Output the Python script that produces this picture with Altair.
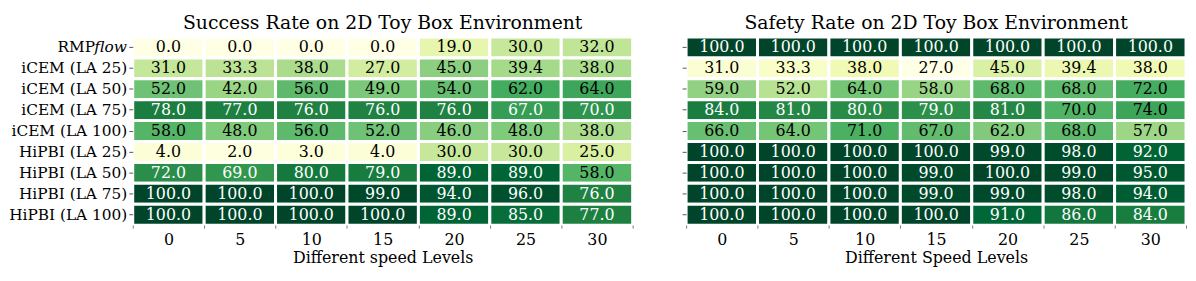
import altair as alt
import numpy as np
import pandas as pd

speeds = [0, 5, 10, 15, 20, 25, 30]
methods = ["RMPflow", "iCEM (LA 25)", "iCEM (LA 50)", "iCEM (LA 75)", "iCEM (LA 100)",
           "HiPBI (LA 25)", "HiPBI (LA 50)", "HiPBI (LA 75)", "HiPBI (LA 100)"]

success_rmpflow = [0.0, 0.0, 0.0, 0.0, 19.0, 30.0, 32.0]
success_icem25 = [31.0, 33.3, 38.0, 27.0, 45.0, 39.4, 38.0]
success_icem50 = [52.0, 42.0, 56.0, 49.0, 54.0, 62.0, 64.0]
success_icem75 = [78.0, 77.0, 76.0, 76.0, 76.0, 67.0, 70.0]
success_icem100 = [58.0, 48.0, 56.0, 52.0, 46.0, 48.0, 38.0]
success_hipbi25 = [4.0, 2.0, 3.0, 4.0, 30.0, 30.0, 25.0]
success_hipbi50 = [72.0, 69.0, 80.0, 79.0, 89.0, 89.0, 58.0]
success_hipbi75 = [100.0, 100.0, 100.0, 99.0, 94.0, 96.0, 76.0]
success_hipbi100 = [100.0, 100.0, 100.0, 100.0, 89.0, 85.0, 77.0]

safety_rmpflow = [100.0, 100.0, 100.0, 100.0, 100.0, 100.0, 100.0]
safety_icem25 = [31.0, 33.3, 38.0, 27.0, 45.0, 39.4, 38.0]
safety_icem50 = [59.0, 52.0, 64.0, 58.0, 68.0, 68.0, 72.0]
safety_icem75 = [84.0, 81.0, 80.0, 79.0, 81.0, 70.0, 74.0]
safety_icem100 = [66.0, 64.0, 71.0, 67.0, 62.0, 68.0, 57.0]
safety_hipbi25 = [100.0, 100.0, 100.0, 100.0, 99.0, 98.0, 92.0]
safety_hipbi50 = [100.0, 100.0, 100.0, 99.0, 100.0, 99.0, 95.0]
safety_hipbi75 = [100.0, 100.0, 100.0, 99.0, 99.0, 98.0, 94.0]
safety_hipbi100 = [100.0, 100.0, 100.0, 100.0, 91.0, 86.0, 84.0]

success = [success_rmpflow, success_icem25, success_icem50, success_icem75, success_icem100,
           success_hipbi25, success_hipbi50, success_hipbi75, success_hipbi100]
safety = [safety_rmpflow, safety_icem25, safety_icem50, safety_icem75, safety_icem100,
          safety_hipbi25, safety_hipbi50, safety_hipbi75, safety_hipbi100]

# ColorBrewer YlGn (matplotlib "YlGn")
YLGN = ["#ffffe5", "#f7fcb9", "#d9f0a3", "#addd8e", "#78c679",
        "#41ab5d", "#238443", "#006837", "#004529"]

FONT = "DejaVu Serif"
FS = 16
LFS = 15.5
W, H = 505, 190


def frame(vals):
    rows = []
    for m, row in zip(methods, vals):
        for s, v in zip(speeds, row):
            rows.append({"method": m, "speed": s, "value": v, "label": f"{v:.1f}"})
    return pd.DataFrame(rows)


def panel(vals, title, xtitle, thr, first):
    df = frame(vals)
    lo, hi = float(df["value"].min()), float(df["value"].max())
    dom = [float(d) for d in np.linspace(lo, hi, len(YLGN))]
    yaxis = alt.Axis(labels=first, ticks=True, tickSize=4, tickColor="#555", labelPadding=2,
                     labelFont=FONT, labelFontSize=LFS, labelColor="black", domain=False,
                     labelExpr="datum.value == 'RMPflow' ? '' : datum.value")
    base = alt.Chart(df).encode(
        x=alt.X("speed:O", sort=speeds, title=xtitle,
                axis=alt.Axis(labelAngle=0, tickBand="extent", tickSize=3, tickColor="#777",
                              labelFont=FONT, labelFontSize=FS, labelColor="black",
                              titleFont=FONT, titleFontSize=FS, titleFontWeight="normal",
                              titleColor="black", titlePadding=2, labelPadding=4, domain=False)),
        y=alt.Y("method:N", sort=methods, title=None, axis=yaxis),
    )
    rect = base.mark_rect(stroke="white", strokeWidth=3).encode(
        color=alt.Color("value:Q", scale=alt.Scale(domain=dom, range=YLGN, interpolate="rgb"),
                        legend=None)
    )
    text = base.mark_text(font=FONT, fontSize=FS).encode(
        text="label:N",
        color=alt.condition(alt.datum.value > thr, alt.value("white"), alt.value("black")),
    )
    layers = [rect, text]
    if first:
        lab = pd.DataFrame({"method": ["RMPflow"]})
        flow = alt.Chart(lab).mark_text(font=FONT, fontSize=LFS, fontStyle="italic", align="right",
                                        baseline="middle", color="black").encode(
            y=alt.Y("method:N", sort=methods), x=alt.value(-6), text=alt.value("flow"))
        rmp = alt.Chart(lab).mark_text(font=FONT, fontSize=LFS, align="right",
                                       baseline="middle", color="black").encode(
            y=alt.Y("method:N", sort=methods), x=alt.value(-38), text=alt.value("RMP"))
        layers += [flow, rmp]
    return alt.layer(*layers).properties(
        width=W, height=H,
        title=alt.TitleParams(title, font=FONT, fontSize=19, fontWeight="normal",
                              color="black", anchor="middle", offset=3),
    )


left = panel(success, "Success Rate on 2D Toy Box Environment", "Different speed Levels", 65, True)
right = panel(safety, "Safety Rate on 2D Toy Box Environment", "Different Speed Levels", 75, False)

chart = alt.hconcat(left, right, spacing=47).resolve_scale(color="independent").configure_view(
    stroke=None).properties(padding={"left": 0, "top": 4, "right": 0, "bottom": 0}).configure(
    background="white")

chart.save("out.html", embed_options={"renderer": "svg", "actions": False})
